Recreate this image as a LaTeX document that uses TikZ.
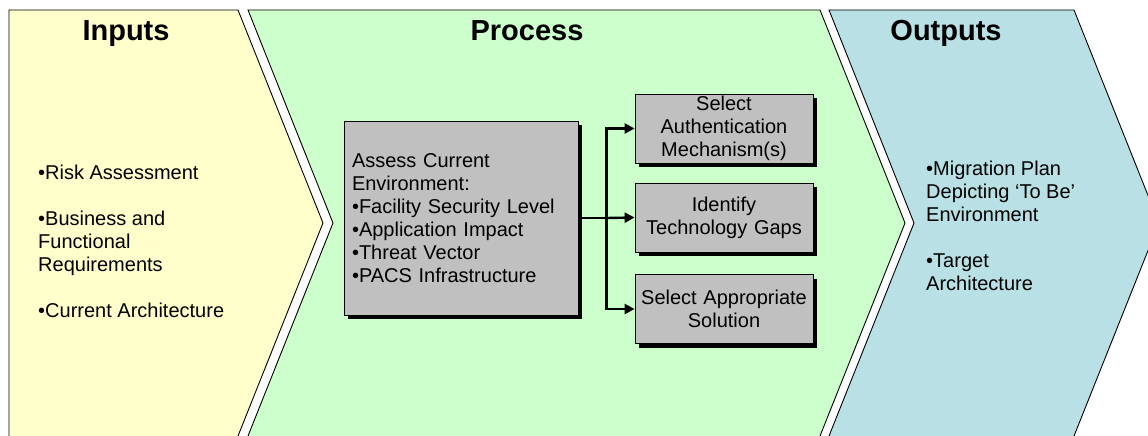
\documentclass[tikz,border=0pt]{standalone}
\usepackage{fontspec}
\setmainfont{Liberation Sans}
\usetikzlibrary{arrows.meta,shadows}
\definecolor{inputfill}{HTML}{FFFFCC}
\definecolor{processfill}{HTML}{CCFFCC}
\definecolor{outputfill}{HTML}{B9E0E4}
\definecolor{boxgray}{HTML}{C0C0C0}
\begin{document}
\begin{tikzpicture}[x=1pt,y=-1pt,
		phase/.style={draw=black,line width=0.9pt},
		heading/.style={anchor=base,font=\fontsize{29}{33}\selectfont\bfseries},
		listtext/.style={anchor=west,align=left,inner sep=0pt,font=\fontsize{20}{23}\selectfont},
		task/.style={draw=black,line width=0.8pt,fill=boxgray,inner sep=0pt,font=\fontsize{20}{23}\selectfont,
			drop shadow={shadow xshift=4pt,shadow yshift=-4pt,fill=black,opacity=1}},
		link/.style={line width=2.4pt},
		tip/.style={-{Triangle[length=10pt,width=10pt]}}]
		\useasboundingbox (0,0) rectangle (1148,436);
		\clip (0,0) rectangle (1148,436);
		\fill [white] (0,0) rectangle (1148,436);
		\draw [phase,fill=inputfill] (9,10) -- (238,10) -- (323,223) -- (234,446) -- (9,446) -- cycle;
		\draw [phase,fill=processfill] (248,10) -- (820,10) -- (905,223) -- (816,446) -- (244,446) -- (333,223) -- cycle;
		\draw [phase,fill=outputfill] (829,10) -- (1074,10) -- (1159,223) -- (1070,446) -- (825,446) -- (914,223) -- cycle;
		\node [heading] (inhead) at (126,41) {Inputs};
		\node [heading] (prochead) at (527,41) {Process};
		\node [heading] (outhead) at (946,41) {Outputs};
		\node [listtext] (inlist) at (38,241) {•Risk Assessment\\[23pt]•Business and\\Functional\\Requirements\\[23pt]•Current Architecture};
		\node [listtext] (outlist) at (926,226) {•Migration Plan\\Depicting ‘To Be’\\Environment\\[23pt]•Target\\Architecture};
		\node [task,minimum width=234pt,minimum height=194pt,text width=218pt,inner xsep=8pt,align=left] (assess) at (461,218)
			{Assess Current\\Environment:\\•Facility Security Level\\•Application Impact\\•Threat Vector\\•PACS Infrastructure};
		\node [task,minimum width=178pt,minimum height=69pt,text width=178pt,align=center] (auth) at (724,128.5) {Select\\Authentication\\Mechanism(s)};
		\node [task,minimum width=178pt,minimum height=69pt,text width=178pt,align=center] (gaps) at (724,217.5) {Identify\\Technology Gaps};
		\node [task,minimum width=178pt,minimum height=69pt,text width=178pt,align=center] (solution) at (724,309) {Select Appropriate\\Solution};
		\draw [link] (assess.east) -- ++(28,0) coordinate (bus);
		\draw [link,tip] (bus) -- (gaps.west);
		\draw [link,tip] (bus) |- (auth.west);
		\draw [link,tip] (bus) |- (solution.west);
	\end{tikzpicture}
\end{document}
